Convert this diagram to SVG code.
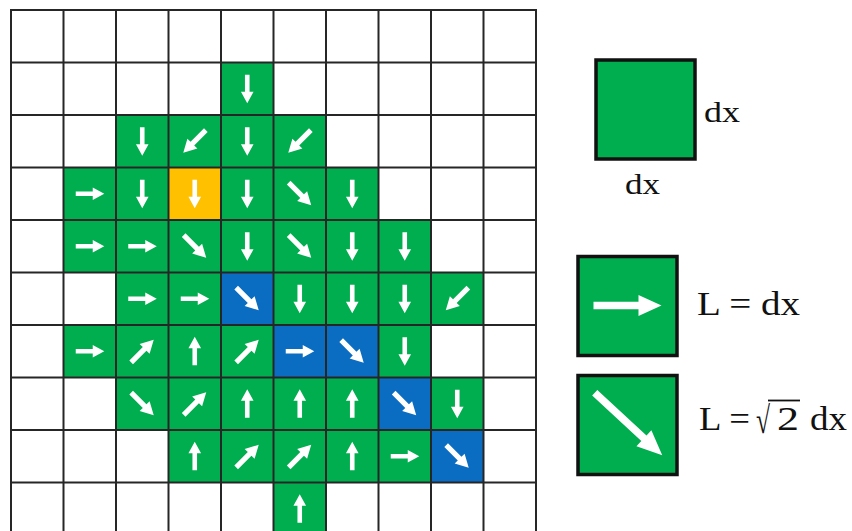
<svg xmlns="http://www.w3.org/2000/svg" xmlns:xlink="http://www.w3.org/1999/xlink" width="852" height="531" viewBox="0 0 852 531">
<style>
.g{fill:#00AE4F}
.b{fill:#0A6DC2}
.o{fill:#FFC000}
.ar{fill:#ffffff}
.grid{stroke:#262626;stroke-width:2;fill:none}
.t{font-family:"Liberation Serif","Times New Roman",serif;fill:#111}
.box{stroke:#111;stroke-width:3.5}
</style>
<defs>
<polygon id="d" class="ar" points="-2.3,-14 2.3,-14 2.3,3 6.3,3 0,14.5 -6.3,3 -2.3,3"/>
<use id="r" xlink:href="#d" href="#d" transform="rotate(-90)"/>
<use id="u" xlink:href="#d" href="#d" transform="rotate(180)"/>
<use id="se" xlink:href="#d" href="#d" transform="rotate(-45) scale(1.12)"/>
<use id="sw" xlink:href="#d" href="#d" transform="rotate(45) scale(1.12)"/>
<use id="ne" xlink:href="#d" href="#d" transform="rotate(-135) scale(1.12)"/>
<polygon id="bigr" class="ar" points="-34,-3.8 11,-3.8 11,-10.5 34,0 11,10.5 11,3.8 -34,3.8"/>
<polygon id="bigd" class="ar" points="-46,-3.8 21,-3.8 21,-11 46,0 21,11 21,3.8 -46,3.8"/>
</defs>
<rect width="852" height="531" fill="#ffffff"/>
<g id="cells">
<g id="r1c4" transform="translate(221,62.5)"><rect class="g" width="52.5" height="52.5"/><use href="#d" x="26.25" y="26.25"/></g>
<g id="r2c2" transform="translate(116,115)"><rect class="g" width="52.5" height="52.5"/><use href="#d" x="26.25" y="26.25"/></g>
<g id="r2c3" transform="translate(168.5,115)"><rect class="g" width="52.5" height="52.5"/><use href="#sw" x="26.25" y="26.25"/></g>
<g id="r2c4" transform="translate(221,115)"><rect class="g" width="52.5" height="52.5"/><use href="#d" x="26.25" y="26.25"/></g>
<g id="r2c5" transform="translate(273.5,115)"><rect class="g" width="52.5" height="52.5"/><use href="#sw" x="26.25" y="26.25"/></g>
<g id="r3c1" transform="translate(63.5,167.5)"><rect class="g" width="52.5" height="52.5"/><use href="#r" x="26.25" y="26.25"/></g>
<g id="r3c2" transform="translate(116,167.5)"><rect class="g" width="52.5" height="52.5"/><use href="#d" x="26.25" y="26.25"/></g>
<g id="r3c3" transform="translate(168.5,167.5)"><rect class="o" width="52.5" height="52.5"/><use href="#d" x="26.25" y="26.25"/></g>
<g id="r3c4" transform="translate(221,167.5)"><rect class="g" width="52.5" height="52.5"/><use href="#d" x="26.25" y="26.25"/></g>
<g id="r3c5" transform="translate(273.5,167.5)"><rect class="g" width="52.5" height="52.5"/><use href="#se" x="26.25" y="26.25"/></g>
<g id="r3c6" transform="translate(326,167.5)"><rect class="g" width="52.5" height="52.5"/><use href="#d" x="26.25" y="26.25"/></g>
<g id="r4c1" transform="translate(63.5,220)"><rect class="g" width="52.5" height="52.5"/><use href="#r" x="26.25" y="26.25"/></g>
<g id="r4c2" transform="translate(116,220)"><rect class="g" width="52.5" height="52.5"/><use href="#r" x="26.25" y="26.25"/></g>
<g id="r4c3" transform="translate(168.5,220)"><rect class="g" width="52.5" height="52.5"/><use href="#se" x="26.25" y="26.25"/></g>
<g id="r4c4" transform="translate(221,220)"><rect class="g" width="52.5" height="52.5"/><use href="#d" x="26.25" y="26.25"/></g>
<g id="r4c5" transform="translate(273.5,220)"><rect class="g" width="52.5" height="52.5"/><use href="#se" x="26.25" y="26.25"/></g>
<g id="r4c6" transform="translate(326,220)"><rect class="g" width="52.5" height="52.5"/><use href="#d" x="26.25" y="26.25"/></g>
<g id="r4c7" transform="translate(378.5,220)"><rect class="g" width="52.5" height="52.5"/><use href="#d" x="26.25" y="26.25"/></g>
<g id="r5c2" transform="translate(116,272.5)"><rect class="g" width="52.5" height="52.5"/><use href="#r" x="26.25" y="26.25"/></g>
<g id="r5c3" transform="translate(168.5,272.5)"><rect class="g" width="52.5" height="52.5"/><use href="#r" x="26.25" y="26.25"/></g>
<g id="r5c4" transform="translate(221,272.5)"><rect class="b" width="52.5" height="52.5"/><use href="#se" x="26.25" y="26.25"/></g>
<g id="r5c5" transform="translate(273.5,272.5)"><rect class="g" width="52.5" height="52.5"/><use href="#d" x="26.25" y="26.25"/></g>
<g id="r5c6" transform="translate(326,272.5)"><rect class="g" width="52.5" height="52.5"/><use href="#d" x="26.25" y="26.25"/></g>
<g id="r5c7" transform="translate(378.5,272.5)"><rect class="g" width="52.5" height="52.5"/><use href="#d" x="26.25" y="26.25"/></g>
<g id="r5c8" transform="translate(431,272.5)"><rect class="g" width="52.5" height="52.5"/><use href="#sw" x="26.25" y="26.25"/></g>
<g id="r6c1" transform="translate(63.5,325)"><rect class="g" width="52.5" height="52.5"/><use href="#r" x="26.25" y="26.25"/></g>
<g id="r6c2" transform="translate(116,325)"><rect class="g" width="52.5" height="52.5"/><use href="#ne" x="26.25" y="26.25"/></g>
<g id="r6c3" transform="translate(168.5,325)"><rect class="g" width="52.5" height="52.5"/><use href="#u" x="26.25" y="26.25"/></g>
<g id="r6c4" transform="translate(221,325)"><rect class="g" width="52.5" height="52.5"/><use href="#ne" x="26.25" y="26.25"/></g>
<g id="r6c5" transform="translate(273.5,325)"><rect class="b" width="52.5" height="52.5"/><use href="#r" x="26.25" y="26.25"/></g>
<g id="r6c6" transform="translate(326,325)"><rect class="b" width="52.5" height="52.5"/><use href="#se" x="26.25" y="26.25"/></g>
<g id="r6c7" transform="translate(378.5,325)"><rect class="g" width="52.5" height="52.5"/><use href="#d" x="26.25" y="26.25"/></g>
<g id="r7c2" transform="translate(116,377.5)"><rect class="g" width="52.5" height="52.5"/><use href="#se" x="26.25" y="26.25"/></g>
<g id="r7c3" transform="translate(168.5,377.5)"><rect class="g" width="52.5" height="52.5"/><use href="#ne" x="26.25" y="26.25"/></g>
<g id="r7c4" transform="translate(221,377.5)"><rect class="g" width="52.5" height="52.5"/><use href="#u" x="26.25" y="26.25"/></g>
<g id="r7c5" transform="translate(273.5,377.5)"><rect class="g" width="52.5" height="52.5"/><use href="#u" x="26.25" y="26.25"/></g>
<g id="r7c6" transform="translate(326,377.5)"><rect class="g" width="52.5" height="52.5"/><use href="#u" x="26.25" y="26.25"/></g>
<g id="r7c7" transform="translate(378.5,377.5)"><rect class="b" width="52.5" height="52.5"/><use href="#se" x="26.25" y="26.25"/></g>
<g id="r7c8" transform="translate(431,377.5)"><rect class="g" width="52.5" height="52.5"/><use href="#d" x="26.25" y="26.25"/></g>
<g id="r8c3" transform="translate(168.5,430)"><rect class="g" width="52.5" height="52.5"/><use href="#u" x="26.25" y="26.25"/></g>
<g id="r8c4" transform="translate(221,430)"><rect class="g" width="52.5" height="52.5"/><use href="#ne" x="26.25" y="26.25"/></g>
<g id="r8c5" transform="translate(273.5,430)"><rect class="g" width="52.5" height="52.5"/><use href="#ne" x="26.25" y="26.25"/></g>
<g id="r8c6" transform="translate(326,430)"><rect class="g" width="52.5" height="52.5"/><use href="#u" x="26.25" y="26.25"/></g>
<g id="r8c7" transform="translate(378.5,430)"><rect class="g" width="52.5" height="52.5"/><use href="#r" x="26.25" y="26.25"/></g>
<g id="r8c8" transform="translate(431,430)"><rect class="b" width="52.5" height="52.5"/><use href="#se" x="26.25" y="26.25"/></g>
<g id="r9c5" transform="translate(273.5,482.5)"><rect class="g" width="52.5" height="52.5"/><use href="#u" x="26.25" y="26.25"/></g>
</g>
<g id="gridlines">
<path class="grid" d="M11,10V540M63.5,10V540M116,10V540M168.5,10V540M221,10V540M273.5,10V540M326,10V540M378.5,10V540M431,10V540M483.5,10V540M536,10V540M10,10H537M10,62.5H537M10,115H537M10,167.5H537M10,220H537M10,272.5H537M10,325H537M10,377.5H537M10,430H537M10,482.5H537"/>
</g>
<g id="legend-cell">
<rect class="g box" x="596" y="60" width="99" height="99"/>
<text class="t" x="704" y="122" font-size="29" textLength="36" lengthAdjust="spacingAndGlyphs">dx</text>
<text class="t" x="625" y="194" font-size="29" textLength="35" lengthAdjust="spacingAndGlyphs">dx</text>
</g>
<g id="legend-straight">
<rect class="g box" x="578" y="256.5" width="99" height="99"/>
<use href="#bigr" x="627.5" y="305.5"/>
<text class="t" x="697" y="315" font-size="33" textLength="103" lengthAdjust="spacingAndGlyphs">L = dx</text>
</g>
<g id="legend-diagonal">
<rect class="g box" x="578" y="375.5" width="99" height="99"/>
<use href="#bigd" transform="translate(628.5,424) rotate(42.8)"/>
<text class="t" x="699" y="430" font-size="33" textLength="51" lengthAdjust="spacingAndGlyphs">L =</text>
<text class="t" x="756" y="433" font-size="38" textLength="14" lengthAdjust="spacingAndGlyphs">√</text>
<line x1="768" y1="400.5" x2="800" y2="400.5" stroke="#111" stroke-width="1.8"/>
<text class="t" x="777" y="430" font-size="33" textLength="22" lengthAdjust="spacingAndGlyphs">2</text>
<text class="t" x="810" y="430" font-size="33" textLength="37" lengthAdjust="spacingAndGlyphs">dx</text>
</g>
</svg>
